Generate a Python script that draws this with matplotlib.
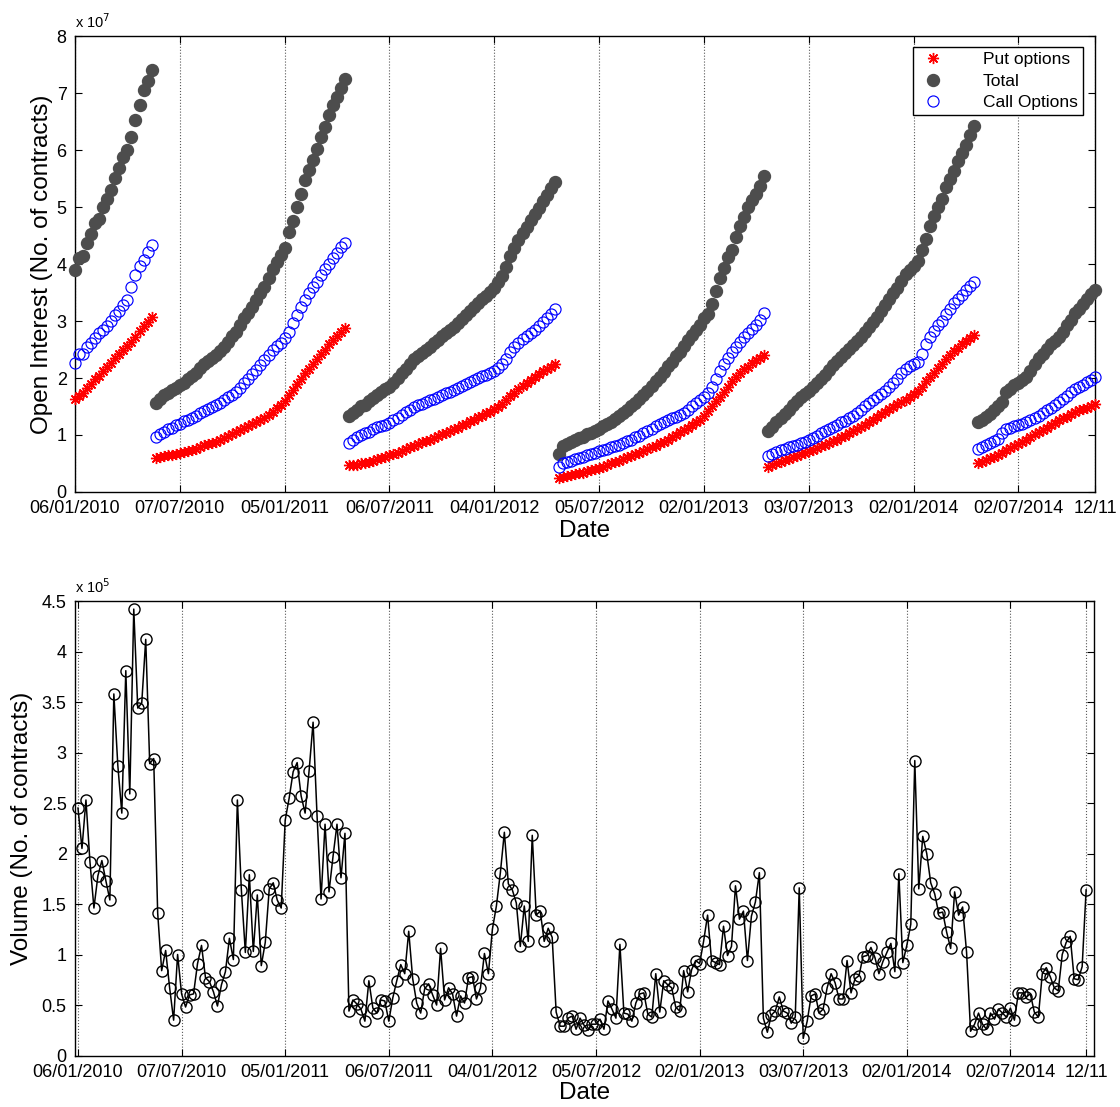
import numpy as np
import matplotlib
matplotlib.use("Agg")
import matplotlib.pyplot as plt
from matplotlib.lines import Line2D

plt.rcParams['font.family'] = ['Liberation Sans', 'DejaVu Sans']

# Weekly observations, numbered 1..254
date_ticks = [1, 27, 53, 79, 105, 131, 157, 183, 209, 235, 254]
date_labels = ['06/01/2010', '07/07/2010', '05/01/2011', '06/07/2011', '04/01/2012',
               '05/07/2012', '02/01/2013', '03/07/2013', '02/01/2014', '02/07/2014', '12/11']

# Open interest, in units of 10^7 contracts
put_oi = [
    1.63, 1.69, 1.74, 1.82, 1.90, 1.98, 2.04, 2.12, 2.19, 2.26, 2.35, 2.42, 2.50, 2.56, 2.64, 2.72, 2.82, 2.92, 2.99, 3.07,
    0.59, 0.61, 0.63, 0.64, 0.65, 0.66, 0.68, 0.70, 0.72, 0.74, 0.76, 0.79, 0.82, 0.84, 0.86, 0.88, 0.91, 0.94, 0.98, 1.02,
    1.05, 1.09, 1.13, 1.16, 1.19, 1.23, 1.26, 1.30, 1.35, 1.41, 1.47, 1.53, 1.60, 1.70, 1.79, 1.89, 1.99, 2.08, 2.16, 2.25,
    2.34, 2.42, 2.50, 2.59, 2.67, 2.73, 2.80, 2.87,
    0.47, 0.47, 0.48, 0.50, 0.51, 0.53, 0.55, 0.57, 0.59, 0.62, 0.64, 0.66, 0.69, 0.72, 0.75, 0.78, 0.81, 0.84, 0.87, 0.89,
    0.92, 0.95, 0.98, 1.01, 1.04, 1.07, 1.10, 1.13, 1.17, 1.20, 1.24, 1.27, 1.31, 1.34, 1.38, 1.41, 1.45, 1.49, 1.55, 1.62,
    1.68, 1.74, 1.80, 1.86, 1.92, 1.97, 2.02, 2.07, 2.12, 2.16, 2.20, 2.24,
    0.24, 0.27, 0.28, 0.30, 0.31, 0.33, 0.34, 0.36, 0.38, 0.40, 0.42, 0.44, 0.47, 0.50, 0.52, 0.55, 0.58, 0.61, 0.63, 0.66,
    0.69, 0.72, 0.75, 0.78, 0.81, 0.85, 0.88, 0.92, 0.96, 1.00, 1.05, 1.09, 1.13, 1.17, 1.22, 1.27, 1.33, 1.42, 1.50, 1.59,
    1.67, 1.75, 1.84, 1.94, 2.01, 2.09, 2.15, 2.20, 2.26, 2.31, 2.35, 2.40,
    0.44, 0.47, 0.50, 0.53, 0.56, 0.58, 0.61, 0.63, 0.66, 0.69, 0.71, 0.74, 0.77, 0.80, 0.83, 0.86, 0.89, 0.92, 0.96, 0.99,
    1.03, 1.07, 1.11, 1.14, 1.18, 1.22, 1.27, 1.31, 1.36, 1.41, 1.45, 1.49, 1.54, 1.58, 1.62, 1.67, 1.72, 1.78, 1.85, 1.94,
    2.02, 2.09, 2.17, 2.25, 2.33, 2.40, 2.47, 2.53, 2.59, 2.65, 2.71, 2.76,
    0.50, 0.52, 0.56, 0.59, 0.62, 0.65, 0.68, 0.74, 0.77, 0.80, 0.84, 0.87, 0.91, 0.96, 1.01, 1.05, 1.08, 1.12, 1.17, 1.21,
    1.26, 1.30, 1.32, 1.36, 1.40, 1.43, 1.45, 1.48, 1.51, 1.54,
]

call_oi = [
    2.27, 2.42, 2.43, 2.55, 2.61, 2.70, 2.79, 2.84, 2.91, 3.00, 3.11, 3.18, 3.28, 3.37, 3.60, 3.81, 3.96, 4.07, 4.22, 4.34,
    0.97, 1.02, 1.06, 1.10, 1.13, 1.17, 1.20, 1.24, 1.27, 1.30, 1.34, 1.38, 1.42, 1.45, 1.49, 1.52, 1.57, 1.61, 1.66, 1.71,
    1.76, 1.83, 1.92, 1.99, 2.07, 2.14, 2.23, 2.32, 2.40, 2.49, 2.56, 2.62, 2.70, 2.81, 2.96, 3.11, 3.24, 3.37, 3.50, 3.59,
    3.69, 3.81, 3.91, 4.01, 4.10, 4.20, 4.30, 4.38,
    0.86, 0.91, 0.96, 1.00, 1.03, 1.06, 1.10, 1.14, 1.16, 1.18, 1.21, 1.26, 1.30, 1.35, 1.40, 1.44, 1.49, 1.52, 1.55, 1.58,
    1.61, 1.64, 1.67, 1.70, 1.73, 1.76, 1.79, 1.82, 1.86, 1.89, 1.93, 1.96, 2.00, 2.03, 2.06, 2.09, 2.13, 2.18, 2.25, 2.33,
    2.46, 2.55, 2.62, 2.69, 2.73, 2.79, 2.84, 2.91, 2.98, 3.05, 3.13, 3.21,
    0.44, 0.50, 0.53, 0.55, 0.57, 0.59, 0.62, 0.64, 0.67, 0.69, 0.72, 0.74, 0.76, 0.78, 0.80, 0.82, 0.86, 0.89, 0.92, 0.96,
    0.99, 1.03, 1.07, 1.11, 1.15, 1.20, 1.23, 1.26, 1.29, 1.32, 1.35, 1.39, 1.44, 1.50, 1.57, 1.62, 1.66, 1.74, 1.85, 1.99,
    2.13, 2.24, 2.35, 2.45, 2.54, 2.63, 2.72, 2.79, 2.86, 2.94, 3.02, 3.15,
    0.63, 0.66, 0.70, 0.73, 0.76, 0.78, 0.80, 0.83, 0.85, 0.88, 0.91, 0.95, 0.99, 1.03, 1.07, 1.11, 1.14, 1.18, 1.22, 1.25,
    1.29, 1.34, 1.39, 1.44, 1.50, 1.56, 1.62, 1.67, 1.72, 1.78, 1.84, 1.91, 1.99, 2.08, 2.16, 2.21, 2.24, 2.29, 2.43, 2.59,
    2.72, 2.83, 2.93, 3.00, 3.12, 3.22, 3.32, 3.39, 3.45, 3.54, 3.62, 3.69,
    0.75, 0.79, 0.82, 0.85, 0.89, 0.93, 1.03, 1.10, 1.13, 1.15, 1.17, 1.19, 1.22, 1.26, 1.30, 1.34, 1.39, 1.43, 1.48, 1.53,
    1.58, 1.63, 1.69, 1.76, 1.80, 1.84, 1.88, 1.93, 1.97, 2.01,
]

total_oi = [
    3.90, 4.11, 4.14, 4.38, 4.53, 4.72, 4.80, 5.01, 5.14, 5.30, 5.52, 5.69, 5.88, 6.00, 6.24, 6.53, 6.80, 7.05, 7.22, 7.41,
    1.56, 1.64, 1.70, 1.74, 1.79, 1.83, 1.87, 1.92, 1.98, 2.04, 2.09, 2.17, 2.24, 2.30, 2.36, 2.40, 2.47, 2.55, 2.64, 2.73,
    2.81, 2.93, 3.05, 3.15, 3.25, 3.37, 3.49, 3.60, 3.75, 3.91, 4.04, 4.16, 4.28, 4.56, 4.76, 5.01, 5.24, 5.48, 5.65, 5.83,
    6.03, 6.24, 6.41, 6.62, 6.79, 6.94, 7.09, 7.25,
    1.33, 1.38, 1.44, 1.50, 1.53, 1.60, 1.65, 1.70, 1.75, 1.80, 1.85, 1.92, 2.00, 2.08, 2.16, 2.25, 2.33, 2.39, 2.44, 2.49,
    2.55, 2.61, 2.67, 2.73, 2.79, 2.84, 2.89, 2.96, 3.03, 3.11, 3.17, 3.24, 3.31, 3.38, 3.44, 3.51, 3.58, 3.68, 3.80, 3.95,
    4.14, 4.29, 4.43, 4.55, 4.66, 4.77, 4.88, 4.99, 5.11, 5.22, 5.33, 5.45,
    0.67, 0.80, 0.84, 0.87, 0.91, 0.94, 0.97, 1.01, 1.04, 1.07, 1.10, 1.15, 1.19, 1.23, 1.28, 1.33, 1.39, 1.44, 1.51, 1.57,
    1.63, 1.70, 1.78, 1.86, 1.94, 2.02, 2.11, 2.21, 2.29, 2.38, 2.46, 2.56, 2.66, 2.75, 2.85, 2.94, 3.05, 3.13, 3.30, 3.53,
    3.76, 3.94, 4.13, 4.25, 4.47, 4.67, 4.83, 5.01, 5.13, 5.24, 5.37, 5.55,
    1.07, 1.14, 1.22, 1.30, 1.37, 1.43, 1.52, 1.59, 1.66, 1.72, 1.78, 1.84, 1.91, 1.98, 2.06, 2.14, 2.22, 2.30, 2.37, 2.44,
    2.51, 2.58, 2.65, 2.72, 2.80, 2.89, 2.98, 3.08, 3.18, 3.29, 3.39, 3.49, 3.58, 3.70, 3.82, 3.90, 3.97, 4.05, 4.25, 4.44,
    4.67, 4.85, 5.01, 5.15, 5.36, 5.50, 5.64, 5.82, 5.96, 6.10, 6.27, 6.43,
    1.22, 1.27, 1.32, 1.37, 1.43, 1.50, 1.58, 1.75, 1.81, 1.87, 1.92, 1.97, 2.02, 2.12, 2.24, 2.35, 2.42, 2.51, 2.59, 2.65,
    2.72, 2.80, 2.93, 3.02, 3.14, 3.21, 3.30, 3.39, 3.48, 3.55,
]

# Weekly traded volume, in units of 10^5 contracts
volume = [
    2.45, 2.05, 2.53, 1.92, 1.46, 1.78, 1.93, 1.73, 1.54, 3.58, 2.87, 2.40, 3.81, 2.59, 4.42, 3.44, 3.49, 4.12, 2.89, 2.94,
    1.41, 0.84, 1.04, 0.67, 0.35, 1.00, 0.61, 0.48, 0.60, 0.61, 0.91, 1.09, 0.77, 0.73, 0.63, 0.49, 0.70, 0.83, 1.16, 0.95,
    2.53, 1.64, 1.02, 1.79, 1.03, 1.59, 0.89, 1.12, 1.65, 1.71, 1.54, 1.46, 2.33, 2.55, 2.81, 2.90, 2.57, 2.40, 2.82, 3.30,
    2.37, 1.55, 2.29, 1.62, 1.97, 2.29, 1.76, 2.20, 0.44, 0.55, 0.51, 0.46, 0.34, 0.74, 0.47, 0.42, 0.55, 0.54, 0.34, 0.57,
    0.74, 0.90, 0.81, 1.23, 0.76, 0.52, 0.42, 0.66, 0.71, 0.60, 0.50, 1.06, 0.55, 0.67, 0.61, 0.39, 0.59, 0.52, 0.77, 0.78,
    0.56, 0.67, 1.01, 0.81, 1.25, 1.48, 1.81, 2.21, 1.70, 1.64, 1.51, 1.08, 1.48, 1.13, 2.18, 1.39, 1.43, 1.13, 1.26, 1.17,
    0.43, 0.29, 0.29, 0.37, 0.39, 0.26, 0.37, 0.30, 0.25, 0.31, 0.31, 0.36, 0.26, 0.54, 0.46, 0.37, 1.10, 0.42, 0.41, 0.34,
    0.52, 0.61, 0.62, 0.41, 0.38, 0.81, 0.43, 0.74, 0.70, 0.67, 0.48, 0.44, 0.84, 0.63, 0.85, 0.94, 0.91, 1.13, 1.39, 0.94,
    0.92, 0.90, 1.28, 0.99, 1.08, 1.68, 1.35, 1.43, 0.94, 1.38, 1.52, 1.81, 0.37, 0.23, 0.40, 0.44, 0.58, 0.44, 0.42, 0.32,
    0.38, 1.66, 0.17, 0.34, 0.59, 0.61, 0.42, 0.46, 0.67, 0.81, 0.72, 0.56, 0.56, 0.94, 0.62, 0.76, 0.79, 0.98, 0.99, 1.07,
    0.97, 0.81, 0.93, 1.02, 1.11, 0.83, 1.80, 0.92, 1.09, 1.30, 2.92, 1.65, 2.17, 2.00, 1.71, 1.60, 1.41, 1.42, 1.22, 1.06,
    1.62, 1.39, 1.47, 1.02, 0.24, 0.31, 0.42, 0.31, 0.26, 0.42, 0.36, 0.46, 0.42, 0.38, 0.47, 0.35, 0.62, 0.62, 0.58, 0.61,
    0.43, 0.38, 0.81, 0.87, 0.78, 0.67, 0.64, 1.00, 1.12, 1.18, 0.76, 0.75, 0.88, 1.64,
]

weeks = np.arange(1, len(volume) + 1)

fig = plt.figure(figsize=(11.2, 11.07), dpi=100)
ax1 = fig.add_axes([0.06696, 0.55565, 0.91071, 0.41147])
ax2 = fig.add_axes([0.06696, 0.04652, 0.91027, 0.41057])

TOTAL_GREY = '#4d4d4d'
PUT_STYLE = dict(ls='none', marker=(8, 2, 0), ms=8, mew=1.0, color='red')
TOTAL_STYLE = dict(ls='none', marker='o', ms=8.6, mfc=TOTAL_GREY, mec=TOTAL_GREY)
CALL_STYLE = dict(ls='none', marker='o', ms=8.0, mfc='none', mec='blue', mew=0.85)

# ---- open interest ----
ax1.plot(weeks, put_oi, clip_on=False, zorder=3, **PUT_STYLE)
ax1.plot(weeks, total_oi, clip_on=False, zorder=3, **TOTAL_STYLE)
ax1.plot(weeks, call_oi, clip_on=False, zorder=3, **CALL_STYLE)

ax1.set_xlim(1, 254)
ax1.set_ylim(0, 8)
ax1.set_yticks(range(0, 9))
ax1.set_yticklabels([str(v) for v in range(0, 9)])
ax1.text(0.0, 1.012, r'x 10$^{7}$', transform=ax1.transAxes, fontsize=10.5, ha='left', va='bottom')
ax1.set_ylabel('Open Interest (No. of contracts)', fontsize=17.5)
ax1.yaxis.set_label_coords(-0.022, 0.5)

handles = [Line2D([], [], **PUT_STYLE), Line2D([], [], **TOTAL_STYLE), Line2D([], [], **CALL_STYLE)]
leg = ax1.legend(handles, ['Put options', 'Total', 'Call Options'], loc='upper right',
                 bbox_to_anchor=(0.9882, 0.9767), borderaxespad=0, fontsize=12.5,
                 frameon=True, fancybox=False, edgecolor='black', framealpha=1,
                 borderpad=0.3, labelspacing=0.36, handlelength=1.7, handletextpad=2.0)
leg.get_frame().set_linewidth(1.0)

# ---- volume ----
ax2.plot(weeks, volume, color='black', lw=1.1, marker='o', ms=8.0, mfc='none', mec='black', mew=1.0,
         clip_on=False, zorder=3)
ax2.set_xlim(0.25, 256.1)
ax2.set_ylim(0, 4.5)
yt = np.arange(0, 4.51, 0.5)
ax2.set_yticks(yt)
ax2.set_yticklabels(['0', '0.5', '1', '1.5', '2', '2.5', '3', '3.5', '4', '4.5'])
ax2.text(0.0, 1.012, r'x 10$^{5}$', transform=ax2.transAxes, fontsize=10.5, ha='left', va='bottom')
ax2.set_ylabel('Volume (No. of contracts)', fontsize=17.5)
ax2.yaxis.set_label_coords(-0.041, 0.5)

for ax in (ax1, ax2):
    ax.set_xticks(date_ticks)
    ax.set_xticklabels(date_labels)
    ax.grid(axis='x', ls=':', color='0.35', lw=0.8)
    ax.set_axisbelow(True)
    ax.tick_params(direction='in', top=True, right=True, length=5, width=0.8, labelsize=13, pad=6)
    for s in ax.spines.values():
        s.set_linewidth(1.0)
    ax.set_xlabel('Date', fontsize=17.5)
ax1.xaxis.set_label_coords(0.5, -0.062)
ax2.xaxis.set_label_coords(0.5, -0.058)

fig.savefig('out.png', dpi=100)
